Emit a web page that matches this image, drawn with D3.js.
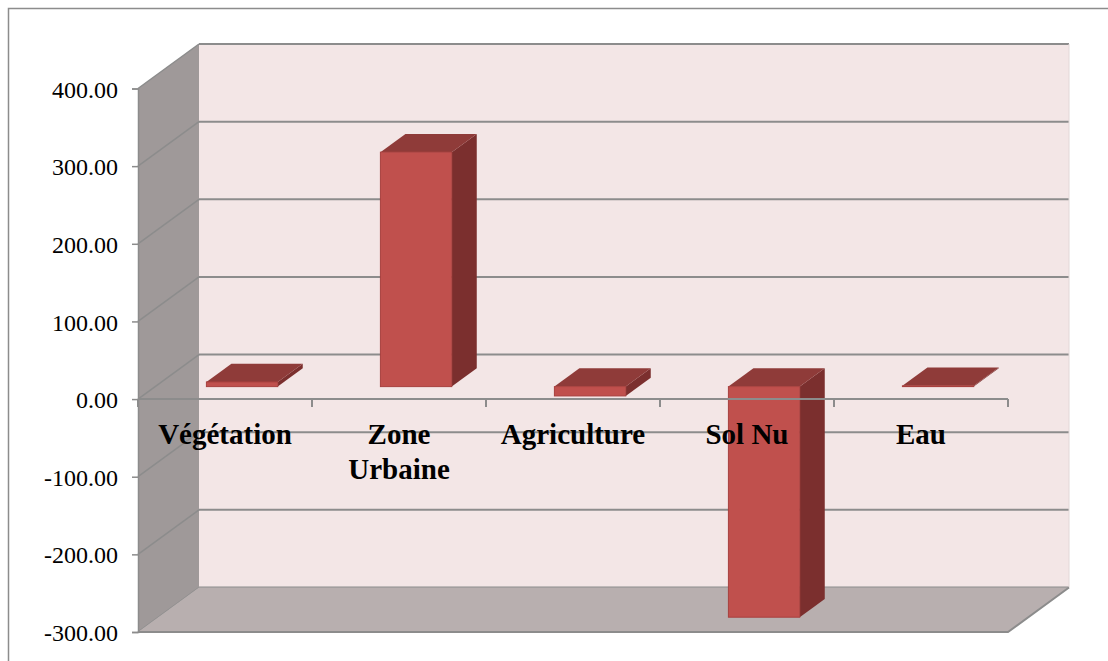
<!DOCTYPE html>
<html>
<head>
<meta charset="utf-8">
<script src="https://cdn.jsdelivr.net/npm/d3@7/dist/d3.min.js"></script>
<style>
  html, body { margin: 0; padding: 0; background: #ffffff; }
  svg { display: block; }
  .yaxis text { font-family: "Liberation Serif", "Times New Roman", serif; }
</style>
</head>
<body>
<svg id="chart" width="1108" height="661"></svg>
<script>
// Land-cover change per class
const categories = ["Végétation", "Zone Urbaine", "Agriculture", "Sol Nu", "Eau"];
const values = [6, 302, -12, -297, 1];
const yTicks = [-300, -200, -100, 0, 100, 200, 300, 400];

const svg = d3.select("#chart");

// Front plane of the 3D plot and the oblique depth offset to the back wall
const front = { left: 138, right: 1008, top: 88.5, bottom: 632 };
const depth = { dx: 61, dy: -44.5 };
// Bars sit between these fractions of the full depth
const barDepth = { from: 0.28, to: 0.69 };

const x = d3.scaleBand()
  .domain(categories)
  .range([front.left, front.right])
  .paddingInner(0.59)
  .paddingOuter(0.295);

const y = d3.scaleLinear()
  .domain([d3.min(yTicks), d3.max(yTicks)])
  .range([front.bottom, front.top]);

const off = f => [depth.dx * f, depth.dy * f];
const pts = arr => arr.map(p => p.join(",")).join(" ");

// Outer frame
svg.append("rect")
  .attr("x", 8.5).attr("y", 8.5)
  .attr("width", 1120).attr("height", 700)
  .attr("fill", "none")
  .attr("stroke", "#8c8c8c")
  .attr("stroke-width", 1.5);

const yTop = y(d3.max(yTicks)), yBot = y(d3.min(yTicks));
const bx = front.left + depth.dx, by = depth.dy;

// Back wall
svg.append("polygon")
  .attr("points", pts([[bx, yTop + by], [front.right + depth.dx, yTop + by],
                       [front.right + depth.dx, yBot + by], [bx, yBot + by]]))
  .attr("fill", "#f3e6e6");

// Left side wall
svg.append("polygon")
  .attr("points", pts([[front.left, yTop], [bx, yTop + by], [bx, yBot + by], [front.left, yBot]]))
  .attr("fill", "#9f9999");

// Gridlines on the back wall and across the side wall
const grid = svg.append("g");
yTicks.forEach(t => {
  const yy = y(t);
  grid.append("line")
    .attr("x1", bx).attr("x2", front.right + depth.dx)
    .attr("y1", yy + by).attr("y2", yy + by)
    .attr("stroke", "#8c8c8c").attr("stroke-width", 2);
  grid.append("line")
    .attr("x1", front.left).attr("y1", yy)
    .attr("x2", bx).attr("y2", yy + by)
    .attr("stroke", "#8c8c8c").attr("stroke-width", 1.5);
});

// Back wall right edge
svg.append("line")
  .attr("x1", front.right + depth.dx).attr("x2", front.right + depth.dx)
  .attr("y1", yTop + by).attr("y2", yBot + by)
  .attr("stroke", "#e2d8d8").attr("stroke-width", 1);

// Floor
svg.append("polygon")
  .attr("points", pts([[front.left, yBot], [front.right, yBot],
                       [front.right + depth.dx, yBot + by], [bx, yBot + by]]))
  .attr("fill", "#b8afaf");
svg.append("polyline")
  .attr("points", pts([[front.left, yBot], [front.right, yBot], [front.right + depth.dx, yBot + by]]))
  .attr("fill", "none")
  .attr("stroke", "#8c8c8c").attr("stroke-width", 2);

// 3D bars
const [fdx, fdy] = off(barDepth.from);
const [ddx, ddy] = off(barDepth.to - barDepth.from);
const bars = svg.append("g");
categories.forEach((c, i) => {
  const v = values[i];
  const x0 = x(c) + fdx, x1 = x0 + x.bandwidth();
  const yv = y(v) + fdy, y0 = y(0) + fdy;
  const top = Math.min(yv, y0), bot = Math.max(yv, y0);
  const g = bars.append("g");
  // right side face
  g.append("polygon")
    .attr("points", pts([[x1, top], [x1 + ddx, top + ddy], [x1 + ddx, bot + ddy], [x1, bot]]))
    .attr("fill", "#7b2f2e");
  // top face
  g.append("polygon")
    .attr("points", pts([[x0, top], [x1, top], [x1 + ddx, top + ddy], [x0 + ddx, top + ddy]]))
    .attr("fill", "#8f3b39");
  // front face
  if (bot - top > 0.6) {
    g.append("rect")
      .attr("x", x0).attr("y", top)
      .attr("width", x1 - x0).attr("height", bot - top)
      .attr("fill", "#c0504d")
      .attr("stroke", "#a8403e").attr("stroke-width", 1);
  }
});

// Category axis along the zero line of the front plane
const xAxisG = svg.append("g");
xAxisG.append("line")
  .attr("x1", front.left).attr("x2", front.right)
  .attr("y1", y(0)).attr("y2", y(0))
  .attr("stroke", "#8c8c8c").attr("stroke-width", 2);
const step = x.step();
d3.range(categories.length + 1).forEach(k => {
  const xx = front.left + k * step;
  xAxisG.append("line")
    .attr("x1", xx).attr("x2", xx)
    .attr("y1", y(0)).attr("y2", y(0) + 8)
    .attr("stroke", "#8c8c8c").attr("stroke-width", 2);
});

// Category labels (wrapped on spaces for two-word names)
const catLabels = svg.append("g")
  .attr("font-family", "'Liberation Serif', 'Times New Roman', serif")
  .attr("font-weight", "bold")
  .attr("font-size", 29)
  .attr("fill", "#000")
  .attr("text-anchor", "middle");
categories.forEach((c, i) => {
  const cx = front.left + (i + 0.5) * step;
  const words = c === "Zone Urbaine" ? c.split(" ") : [c];
  const t = catLabels.append("text").attr("x", cx).attr("y", 444);
  words.forEach((w, j) => {
    t.append("tspan").attr("x", cx).attr("dy", j === 0 ? 0 : 34.5).text(w);
  });
});

// Value axis on the front left edge (plain hyphen for negatives)
const fmt = d3.format(".2f");
const yAxis = d3.axisLeft(y)
  .tickValues(yTicks)
  .tickFormat(d => fmt(d).replace("\u2212", "-"))
  .tickSize(6)
  .tickPadding(14);
const yAxisG = svg.append("g")
  .attr("class", "yaxis")
  .attr("transform", `translate(${front.left},0)`)
  .call(yAxis)
  .attr("font-family", "'Liberation Serif', 'Times New Roman', serif")
  .attr("font-size", 24);
yAxisG.select(".domain").attr("stroke", "#8c8c8c").attr("stroke-width", 1.5);
yAxisG.selectAll(".tick line").attr("stroke", "#8c8c8c").attr("stroke-width", 1.5);
yAxisG.selectAll(".tick text")
  .attr("fill", "#000")
  .attr("dy", "0.36em");
</script>
</body>
</html>
